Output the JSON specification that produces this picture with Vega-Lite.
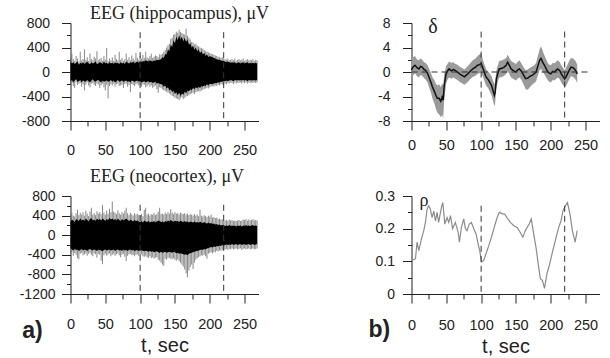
{
"$schema":"https://vega.github.io/schema/vega-lite/v6.json",
"padding":{"left":18.5,"top":5,"right":5,"bottom":2},
"config":{"view":{"stroke":null},"font":"Liberation Sans","axis":{"grid":false,"domainColor":"#222","tickColor":"#222","labelColor":"#222","titleColor":"#222","labelFontSize":14,"labelFontWeight":"normal","labelOverlap":false,"labelFlush":false,"labelBound":false,"titleFontWeight":"normal"},"title":{"color":"#222","font":"Liberation Serif","fontWeight":"normal","fontSize":18}},
"columns":2,
"spacing":{"row":75,"column":153},
"bounds":"flush",
"concat":[
{
"width":188,"height":98,
"title":{"text":"EEG (hippocampus), μV","dx":15,"offset":-21.3,"baseline":"alphabetic","frame":"group"},
"resolve":{"axis":{"x":"independent","y":"independent"}},
"data":{"values":[
{"t":0,"a":170,"b":-150,"c":230,"d":-200},{"t":2,"a":140,"b":-130,"c":300,"d":-180},{"t":4,"a":160,"b":-170,"c":210,"d":-230},{"t":6,"a":130,"b":-140,"c":180,"d":-260},{"t":8,"a":150,"b":-120,"c":260,"d":-170},{"t":10,"a":170,"b":-160,"c":220,"d":-210},{"t":12,"a":120,"b":-150,"c":170,"d":-190},{"t":14,"a":150,"b":-130,"c":330,"d":-180},{"t":16,"a":140,"b":-170,"c":190,"d":-240},{"t":18,"a":160,"b":-140,"c":210,"d":-200},{"t":20,"a":130,"b":-150,"c":370,"d":-300},{"t":22,"a":150,"b":-160,"c":200,"d":-210},{"t":24,"a":170,"b":-130,"c":240,"d":-170},{"t":26,"a":140,"b":-150,"c":180,"d":-220},{"t":28,"a":130,"b":-170,"c":300,"d":-250},{"t":30,"a":160,"b":-140,"c":210,"d":-190},{"t":32,"a":140,"b":-120,"c":190,"d":-180},{"t":34,"a":150,"b":-150,"c":250,"d":-210},{"t":36,"a":170,"b":-160,"c":220,"d":-230},{"t":38,"a":130,"b":-140,"c":340,"d":-190},{"t":40,"a":140,"b":-130,"c":190,"d":-200},{"t":42,"a":160,"b":-150,"c":210,"d":-260},{"t":44,"a":150,"b":-170,"c":230,"d":-220},{"t":46,"a":130,"b":-140,"c":180,"d":-190},{"t":48,"a":170,"b":-160,"c":260,"d":-250},{"t":50,"a":140,"b":-150,"c":200,"d":-300},{"t":52,"a":150,"b":-140,"c":390,"d":-210},{"t":54,"a":130,"b":-160,"c":180,"d":-430},{"t":56,"a":160,"b":-150,"c":220,"d":-230},{"t":58,"a":140,"b":-130,"c":190,"d":-200},{"t":60,"a":150,"b":-160,"c":240,"d":-220},{"t":62,"a":130,"b":-140,"c":180,"d":-190},{"t":64,"a":160,"b":-170,"c":280,"d":-240},{"t":66,"a":140,"b":-150,"c":210,"d":-200},{"t":68,"a":150,"b":-130,"c":190,"d":-190},{"t":70,"a":130,"b":-160,"c":330,"d":-230},{"t":72,"a":160,"b":-150,"c":200,"d":-220},{"t":74,"a":140,"b":-140,"c":230,"d":-210},{"t":76,"a":150,"b":-160,"c":180,"d":-260},{"t":78,"a":130,"b":-150,"c":210,"d":-200},{"t":80,"a":170,"b":-140,"c":300,"d":-190},{"t":82,"a":150,"b":-160,"c":200,"d":-240},{"t":84,"a":140,"b":-150,"c":240,"d":-210},{"t":86,"a":160,"b":-170,"c":190,"d":-330},{"t":88,"a":150,"b":-140,"c":270,"d":-200},{"t":90,"a":170,"b":-150,"c":220,"d":-210},{"t":92,"a":140,"b":-160,"c":190,"d":-230},{"t":94,"a":160,"b":-150,"c":310,"d":-200},{"t":96,"a":170,"b":-140,"c":230,"d":-190},{"t":98,"a":150,"b":-160,"c":200,"d":-220},{"t":100,"a":180,"b":-150,"c":260,"d":-210},{"t":102,"a":160,"b":-170,"c":220,"d":-240},{"t":104,"a":180,"b":-160,"c":280,"d":-200},{"t":106,"a":170,"b":-150,"c":230,"d":-210},{"t":108,"a":190,"b":-170,"c":330,"d":-250},{"t":110,"a":180,"b":-160,"c":240,"d":-230},{"t":112,"a":170,"b":-150,"c":220,"d":-200},{"t":114,"a":190,"b":-170,"c":260,"d":-240},{"t":116,"a":180,"b":-160,"c":300,"d":-220},{"t":118,"a":170,"b":-180,"c":230,"d":-260},{"t":120,"a":190,"b":-170,"c":250,"d":-240},{"t":122,"a":180,"b":-160,"c":270,"d":-220},{"t":124,"a":200,"b":-190,"c":260,"d":-280},{"t":126,"a":190,"b":-180,"c":240,"d":-340},{"t":128,"a":200,"b":-190,"c":290,"d":-250},{"t":130,"a":210,"b":-200,"c":280,"d":-260},{"t":132,"a":240,"b":-210,"c":300,"d":-280},{"t":134,"a":230,"b":-240,"c":330,"d":-300},{"t":136,"a":300,"b":-220,"c":360,"d":-310},{"t":138,"a":280,"b":-270,"c":400,"d":-320},{"t":140,"a":370,"b":-250,"c":440,"d":-340},{"t":142,"a":340,"b":-300,"c":460,"d":-350},{"t":144,"a":450,"b":-280,"c":540,"d":-370},{"t":146,"a":410,"b":-330,"c":560,"d":-390},{"t":148,"a":520,"b":-300,"c":610,"d":-400},{"t":150,"a":470,"b":-360,"c":620,"d":-420},{"t":152,"a":580,"b":-330,"c":660,"d":-430},{"t":154,"a":520,"b":-380,"c":640,"d":-440},{"t":156,"a":600,"b":-340,"c":690,"d":-460},{"t":158,"a":530,"b":-390,"c":650,"d":-430},{"t":160,"a":580,"b":-350,"c":640,"d":-410},{"t":162,"a":500,"b":-370,"c":620,"d":-440},{"t":164,"a":560,"b":-320,"c":610,"d":-420},{"t":166,"a":490,"b":-350,"c":710,"d":-400},{"t":168,"a":530,"b":-300,"c":590,"d":-390},{"t":170,"a":450,"b":-320,"c":560,"d":-380},{"t":172,"a":470,"b":-280,"c":530,"d":-360},{"t":174,"a":400,"b":-300,"c":490,"d":-350},{"t":176,"a":430,"b":-260,"c":480,"d":-340},{"t":178,"a":360,"b":-280,"c":450,"d":-360},{"t":180,"a":400,"b":-250,"c":460,"d":-330},{"t":182,"a":340,"b":-270,"c":430,"d":-320},{"t":184,"a":370,"b":-240,"c":420,"d":-310},{"t":186,"a":310,"b":-260,"c":400,"d":-320},{"t":188,"a":340,"b":-230,"c":390,"d":-300},{"t":190,"a":290,"b":-240,"c":380,"d":-290},{"t":192,"a":310,"b":-220,"c":360,"d":-280},{"t":194,"a":260,"b":-230,"c":340,"d":-270},{"t":196,"a":290,"b":-200,"c":330,"d":-260},{"t":198,"a":240,"b":-220,"c":320,"d":-270},{"t":200,"a":260,"b":-190,"c":310,"d":-250},{"t":202,"a":250,"b":-200,"c":300,"d":-240},{"t":204,"a":240,"b":-190,"c":290,"d":-230},{"t":206,"a":230,"b":-190,"c":280,"d":-240},{"t":208,"a":220,"b":-180,"c":270,"d":-220},{"t":210,"a":210,"b":-180,"c":260,"d":-230},{"t":212,"a":200,"b":-170,"c":250,"d":-210},{"t":214,"a":200,"b":-170,"c":240,"d":-220},{"t":216,"a":190,"b":-160,"c":230,"d":-200},{"t":218,"a":180,"b":-160,"c":240,"d":-210},{"t":220,"a":180,"b":-150,"c":220,"d":-200},{"t":222,"a":170,"b":-150,"c":210,"d":-190},{"t":224,"a":160,"b":-140,"c":200,"d":-200},{"t":226,"a":170,"b":-150,"c":220,"d":-180},{"t":228,"a":160,"b":-140,"c":190,"d":-190},{"t":230,"a":150,"b":-130,"c":200,"d":-170},{"t":232,"a":160,"b":-140,"c":210,"d":-180},{"t":234,"a":150,"b":-150,"c":190,"d":-200},{"t":236,"a":160,"b":-130,"c":220,"d":-170},{"t":238,"a":140,"b":-140,"c":180,"d":-190},{"t":240,"a":150,"b":-130,"c":200,"d":-170},{"t":242,"a":160,"b":-140,"c":210,"d":-180},{"t":244,"a":140,"b":-130,"c":190,"d":-170},{"t":246,"a":150,"b":-140,"c":200,"d":-190},{"t":248,"a":160,"b":-130,"c":220,"d":-170},{"t":250,"a":140,"b":-140,"c":180,"d":-180},{"t":252,"a":150,"b":-130,"c":200,"d":-170},{"t":254,"a":160,"b":-150,"c":210,"d":-190},{"t":256,"a":140,"b":-130,"c":190,"d":-170},{"t":258,"a":150,"b":-140,"c":200,"d":-180},{"t":260,"a":140,"b":-130,"c":190,"d":-170},{"t":262,"a":150,"b":-140,"c":210,"d":-180},{"t":264,"a":140,"b":-130,"c":180,"d":-170},{"t":266,"a":150,"b":-140,"c":200,"d":-180},{"t":268,"a":140,"b":-130,"c":190,"d":-170}
]},
"layer":[
{"mark":{"type":"rule","color":"#6a6a6a","strokeWidth":0.8},
 "encoding":{
  "x":{"field":"t","type":"quantitative","scale":{"domain":[0,270],"nice":false,"zero":false},
   "axis":{"orient":"bottom","values":[0,50,100,150,200,250],"tickSize":9,"labelPadding":13,"labelFontSize":14.5,"labelOverlap":false,"labelFlush":false,"title":null}},
  "y":{"field":"d","type":"quantitative","scale":{"domain":[-800,800],"nice":false,"zero":false},
   "axis":{"orient":"left","values":[-800,-400,0,400,800],"labelExpr":"(datum.value < 0 ? '-' : '') + abs(datum.value)","tickSize":9,"labelPadding":12,"labelOverlap":false,"labelFlush":false,"title":null}},
  "y2":{"field":"c"}}},
{"mark":{"type":"area","color":"#000"},
 "encoding":{
  "x":{"field":"t","type":"quantitative","axis":{"orient":"bottom","values":[25,75,125,175,225],"tickSize":5,"labels":false,"domain":false,"title":null}},
  "y":{"field":"b","type":"quantitative","axis":{"orient":"left","values":[-600,-200,200,600],"tickSize":4,"labels":false,"domain":false,"title":null}},
  "y2":{"field":"a"}}},
{"data":{"values":[{"t":100,"top":650},{"t":220,"top":650}]},
 "mark":{"type":"rule","strokeDash":[6,4],"color":"#333","strokeWidth":1},
 "encoding":{"x":{"field":"t","type":"quantitative","axis":null},"y":{"field":"top","type":"quantitative","axis":null},"y2":{"datum":-800}}}
]
},
{
"width":188,"height":98,
"title":{"text":"δ","anchor":"start","align":"center","dx":21.5,"offset":-36.5,"baseline":"alphabetic","frame":"group","fontSize":20},
"resolve":{"axis":{"x":"independent","y":"independent"}},
"layer":[
{"data":{"name":"delta","values":[
{"t":0,"v":0.3,"lo":-1.0,"hi":1.9},{"t":2,"v":0.8,"lo":-0.6,"hi":2.4},{"t":5,"v":1.1,"lo":-0.2,"hi":2.6},{"t":8,"v":0.7,"lo":-0.7,"hi":2.0},{"t":10.6,"v":0.5,"lo":-0.9,"hi":1.9},{"t":13,"v":0.9,"lo":-0.5,"hi":2.2},{"t":15.4,"v":0.8,"lo":-0.6,"hi":2.0},{"t":18,"v":0.4,"lo":-1.0,"hi":1.6},{"t":20,"v":0.3,"lo":-1.2,"hi":1.5},{"t":23,"v":-0.2,"lo":-1.7,"hi":1.1},{"t":25,"v":-0.8,"lo":-2.4,"hi":0.6},{"t":28,"v":-1.7,"lo":-3.4,"hi":-0.2},{"t":30,"v":-2.4,"lo":-4.3,"hi":-0.8},{"t":33,"v":-3.2,"lo":-5.2,"hi":-1.4},{"t":35,"v":-3.8,"lo":-6.0,"hi":-1.9},{"t":37,"v":-4.3,"lo":-6.6,"hi":-2.2},{"t":39.6,"v":-4.3,"lo":-6.9,"hi":-2.0},{"t":42,"v":-4.8,"lo":-7.4,"hi":-2.5},{"t":44,"v":-4.1,"lo":-7.0,"hi":-1.8},{"t":45.5,"v":-4.6,"lo":-7.6,"hi":-2.3},{"t":47,"v":-2.2,"lo":-4.5,"hi":-0.4},{"t":49.7,"v":-0.3,"lo":-1.9,"hi":1.0},{"t":52,"v":0.2,"lo":-1.2,"hi":1.4},{"t":54,"v":0.5,"lo":-0.9,"hi":1.7},{"t":57,"v":0.2,"lo":-1.1,"hi":1.5},{"t":60,"v":0.4,"lo":-0.9,"hi":1.6},{"t":62,"v":0.3,"lo":-1.0,"hi":1.4},{"t":66,"v":0,"lo":-1.3,"hi":1.2},{"t":69,"v":-0.3,"lo":-1.6,"hi":0.9},{"t":72,"v":-0.5,"lo":-1.8,"hi":0.7},{"t":76,"v":-0.8,"lo":-2.1,"hi":0.4},{"t":78,"v":-0.6,"lo":-1.9,"hi":0.6},{"t":81,"v":-0.3,"lo":-1.6,"hi":1.0},{"t":85,"v":0.2,"lo":-1.1,"hi":1.5},{"t":88,"v":0.5,"lo":-0.8,"hi":1.9},{"t":92,"v":0.8,"lo":-0.6,"hi":2.2},{"t":95,"v":1.1,"lo":-0.3,"hi":2.6},{"t":98,"v":1.2,"lo":-0.2,"hi":2.9},{"t":100,"v":1.4,"lo":-0.1,"hi":3.1},{"t":103,"v":0.5,"lo":-0.9,"hi":1.8},{"t":107,"v":-0.8,"lo":-2.2,"hi":0.5},{"t":110,"v":-1.2,"lo":-2.6,"hi":0.1},{"t":112,"v":-1.6,"lo":-3.1,"hi":-0.2},{"t":115,"v":-2.2,"lo":-3.8,"hi":-0.7},{"t":117,"v":-3.0,"lo":-4.7,"hi":-1.4},{"t":119,"v":-3.8,"lo":-5.6,"hi":-2.0},{"t":120,"v":-3.4,"lo":-5.2,"hi":-1.6},{"t":122,"v":-1.1,"lo":-2.6,"hi":0.3},{"t":124,"v":-0.2,"lo":-1.6,"hi":1.1},{"t":126,"v":0.5,"lo":-0.9,"hi":1.8},{"t":130,"v":0.6,"lo":-0.8,"hi":1.9},{"t":133,"v":0.8,"lo":-0.6,"hi":2.1},{"t":136,"v":1.1,"lo":-0.3,"hi":2.3},{"t":138,"v":1.6,"lo":0.2,"hi":2.8},{"t":141,"v":1.0,"lo":-0.4,"hi":2.2},{"t":143,"v":0.5,"lo":-0.9,"hi":1.8},{"t":147,"v":0.2,"lo":-1.2,"hi":1.5},{"t":150,"v":0,"lo":-1.4,"hi":1.3},{"t":153,"v":0.4,"lo":-1.0,"hi":1.7},{"t":155,"v":0.5,"lo":-0.9,"hi":1.9},{"t":158,"v":0.1,"lo":-1.3,"hi":1.4},{"t":160,"v":-0.3,"lo":-1.8,"hi":1.0},{"t":162,"v":-0.7,"lo":-2.3,"hi":0.6},{"t":164,"v":-1.1,"lo":-2.8,"hi":0.3},{"t":167,"v":-1.0,"lo":-2.9,"hi":0.4},{"t":169,"v":-0.8,"lo":-2.6,"hi":0.6},{"t":172,"v":-0.6,"lo":-2.2,"hi":0.8},{"t":174,"v":-0.5,"lo":-2.0,"hi":0.9},{"t":177,"v":-0.2,"lo":-1.7,"hi":1.2},{"t":179,"v":0,"lo":-1.5,"hi":1.5},{"t":181,"v":0.8,"lo":-0.7,"hi":2.4},{"t":184,"v":1.9,"lo":0.3,"hi":3.7},{"t":186,"v":2.2,"lo":0.5,"hi":4.2},{"t":188,"v":1.7,"lo":0.1,"hi":3.6},{"t":191,"v":1.1,"lo":-0.4,"hi":2.7},{"t":194,"v":0.4,"lo":-1.0,"hi":1.9},{"t":196,"v":0,"lo":-1.4,"hi":1.4},{"t":198,"v":-0.2,"lo":-1.6,"hi":1.2},{"t":200,"v":-0.3,"lo":-1.7,"hi":1.1},{"t":203,"v":0.1,"lo":-1.3,"hi":1.5},{"t":205,"v":0,"lo":-1.4,"hi":1.4},{"t":208,"v":0.3,"lo":-1.1,"hi":1.7},{"t":210,"v":0.5,"lo":-0.9,"hi":1.9},{"t":213,"v":0.2,"lo":-1.2,"hi":1.6},{"t":215,"v":-0.3,"lo":-1.7,"hi":1.1},{"t":218,"v":-0.8,"lo":-2.2,"hi":0.6},{"t":220,"v":-1.1,"lo":-2.5,"hi":0.3},{"t":222,"v":-0.8,"lo":-2.3,"hi":0.7},{"t":224,"v":-0.3,"lo":-1.8,"hi":1.2},{"t":227,"v":0.4,"lo":-1.1,"hi":1.9},{"t":229,"v":0.8,"lo":-0.7,"hi":2.3},{"t":232,"v":0.7,"lo":-0.8,"hi":2.2},{"t":234,"v":0.5,"lo":-1.0,"hi":2.0},{"t":236,"v":0.2,"lo":-1.3,"hi":1.7},{"t":238,"v":-0.3,"lo":-1.8,"hi":1.2}
]},
 "mark":{"type":"area","color":"#9a9a9a"},
 "encoding":{
  "x":{"field":"t","type":"quantitative","scale":{"domain":[0,270],"nice":false,"zero":false},
   "axis":{"orient":"bottom","values":[0,50,100,150,200,250],"tickSize":9,"labelPadding":8,"labelFontSize":14.5,"labelOverlap":false,"labelFlush":false,"title":null}},
  "y":{"field":"lo","type":"quantitative","scale":{"domain":[-8,8],"nice":false,"zero":false},
   "axis":{"orient":"left","values":[-8,-4,0,4,8],"labelExpr":"(datum.value < 0 ? '-' : '') + abs(datum.value)","tickSize":9,"labelPadding":12.5,"labelOverlap":false,"labelFlush":false,"title":null}},
  "y2":{"field":"hi"}}},
{"data":{"name":"delta"},
 "mark":{"type":"line","color":"#111","strokeWidth":1.5},
 "encoding":{
  "x":{"field":"t","type":"quantitative","axis":{"orient":"bottom","values":[25,75,125,175,225],"tickSize":5,"labels":false,"domain":false,"title":null}},
  "y":{"field":"v","type":"quantitative","axis":{"orient":"left","values":[-6,-2,2,6],"tickSize":4,"labels":false,"domain":false,"title":null}}}},
{"data":{"values":[{"t":100,"top":6.6},{"t":220,"top":6.6}]},
 "mark":{"type":"rule","strokeDash":[6,4],"color":"#333","strokeWidth":1},
 "encoding":{"x":{"field":"t","type":"quantitative","axis":null},"y":{"field":"top","type":"quantitative","axis":null},"y2":{"datum":-8}}},
{"data":{"values":[{"t0":0,"t1":256,"z":0}]},
 "mark":{"type":"rule","strokeDash":[6,4],"color":"#333","strokeWidth":1},
 "encoding":{"x":{"field":"t0","type":"quantitative","axis":null},"x2":{"field":"t1"},"y":{"field":"z","type":"quantitative","axis":null}}}
]
},
{
"width":188,"height":98,
"title":{"text":"EEG (neocortex), μV","dx":2.5,"offset":-11,"baseline":"alphabetic","frame":"group"},
"resolve":{"axis":{"x":"independent","y":"independent"}},
"data":{"values":[
{"t":0,"a":280,"b":-260,"c":420,"d":-380},{"t":2,"a":320,"b":-290,"c":460,"d":-350},{"t":4,"a":300,"b":-310,"c":400,"d":-420},{"t":6,"a":270,"b":-280,"c":380,"d":-360},{"t":8,"a":330,"b":-300,"c":450,"d":-400},{"t":10,"a":310,"b":-290,"c":520,"d":-470},{"t":12,"a":290,"b":-320,"c":410,"d":-490},{"t":14,"a":340,"b":-300,"c":460,"d":-380},{"t":16,"a":300,"b":-280,"c":420,"d":-360},{"t":18,"a":320,"b":-310,"c":470,"d":-410},{"t":20,"a":290,"b":-290,"c":400,"d":-390},{"t":22,"a":340,"b":-300,"c":500,"d":-370},{"t":24,"a":310,"b":-320,"c":440,"d":-420},{"t":26,"a":280,"b":-290,"c":390,"d":-380},{"t":28,"a":330,"b":-280,"c":480,"d":-360},{"t":30,"a":350,"b":-300,"c":560,"d":-400},{"t":32,"a":300,"b":-310,"c":420,"d":-430},{"t":34,"a":320,"b":-290,"c":450,"d":-370},{"t":36,"a":290,"b":-300,"c":410,"d":-390},{"t":38,"a":340,"b":-320,"c":490,"d":-460},{"t":40,"a":310,"b":-290,"c":440,"d":-380},{"t":42,"a":330,"b":-300,"c":470,"d":-400},{"t":44,"a":300,"b":-310,"c":430,"d":-520},{"t":46,"a":340,"b":-330,"c":620,"d":-590},{"t":48,"a":320,"b":-300,"c":460,"d":-410},{"t":50,"a":290,"b":-290,"c":420,"d":-380},{"t":52,"a":330,"b":-310,"c":500,"d":-420},{"t":54,"a":310,"b":-300,"c":440,"d":-390},{"t":56,"a":350,"b":-290,"c":540,"d":-370},{"t":58,"a":320,"b":-310,"c":470,"d":-430},{"t":60,"a":340,"b":-300,"c":690,"d":-400},{"t":62,"a":310,"b":-290,"c":480,"d":-380},{"t":64,"a":330,"b":-320,"c":460,"d":-420},{"t":66,"a":300,"b":-300,"c":430,"d":-390},{"t":68,"a":340,"b":-290,"c":510,"d":-370},{"t":70,"a":310,"b":-310,"c":450,"d":-410},{"t":72,"a":290,"b":-300,"c":420,"d":-450},{"t":74,"a":330,"b":-320,"c":470,"d":-400},{"t":76,"a":300,"b":-290,"c":440,"d":-380},{"t":78,"a":320,"b":-310,"c":500,"d":-440},{"t":80,"a":340,"b":-300,"c":560,"d":-525},{"t":82,"a":310,"b":-320,"c":450,"d":-420},{"t":84,"a":290,"b":-300,"c":410,"d":-390},{"t":86,"a":320,"b":-290,"c":460,"d":-380},{"t":88,"a":300,"b":-310,"c":430,"d":-410},{"t":90,"a":280,"b":-300,"c":400,"d":-400},{"t":92,"a":310,"b":-320,"c":450,"d":-430},{"t":94,"a":290,"b":-310,"c":420,"d":-400},{"t":96,"a":300,"b":-300,"c":440,"d":-390},{"t":98,"a":280,"b":-320,"c":410,"d":-420},{"t":100,"a":270,"b":-310,"c":400,"d":-410},{"t":102,"a":290,"b":-300,"c":430,"d":-390},{"t":104,"a":260,"b":-320,"c":390,"d":-430},{"t":106,"a":300,"b":-330,"c":520,"d":-440},{"t":108,"a":280,"b":-310,"c":560,"d":-420},{"t":110,"a":270,"b":-330,"c":420,"d":-450},{"t":112,"a":290,"b":-340,"c":440,"d":-460},{"t":114,"a":260,"b":-320,"c":400,"d":-430},{"t":116,"a":280,"b":-340,"c":430,"d":-470},{"t":118,"a":270,"b":-330,"c":420,"d":-450},{"t":120,"a":290,"b":-350,"c":450,"d":-480},{"t":122,"a":260,"b":-340,"c":410,"d":-460},{"t":124,"a":280,"b":-330,"c":430,"d":-450},{"t":126,"a":300,"b":-350,"c":480,"d":-500},{"t":128,"a":290,"b":-360,"c":560,"d":-520},{"t":130,"a":270,"b":-340,"c":430,"d":-560},{"t":132,"a":280,"b":-360,"c":440,"d":-600},{"t":134,"a":260,"b":-350,"c":420,"d":-625},{"t":136,"a":290,"b":-340,"c":460,"d":-480},{"t":138,"a":270,"b":-360,"c":430,"d":-500},{"t":140,"a":300,"b":-350,"c":470,"d":-470},{"t":142,"a":280,"b":-340,"c":440,"d":-460},{"t":144,"a":310,"b":-350,"c":530,"d":-480},{"t":146,"a":290,"b":-360,"c":460,"d":-490},{"t":148,"a":270,"b":-340,"c":430,"d":-470},{"t":150,"a":300,"b":-350,"c":470,"d":-500},{"t":152,"a":280,"b":-370,"c":440,"d":-520},{"t":154,"a":290,"b":-360,"c":450,"d":-490},{"t":156,"a":270,"b":-380,"c":420,"d":-530},{"t":158,"a":300,"b":-370,"c":460,"d":-560},{"t":160,"a":280,"b":-380,"c":440,"d":-600},{"t":162,"a":270,"b":-390,"c":430,"d":-640},{"t":164,"a":290,"b":-400,"c":450,"d":-700},{"t":166,"a":270,"b":-390,"c":420,"d":-780},{"t":168,"a":280,"b":-410,"c":440,"d":-860},{"t":170,"a":260,"b":-380,"c":410,"d":-720},{"t":172,"a":280,"b":-370,"c":430,"d":-650},{"t":174,"a":270,"b":-360,"c":420,"d":-600},{"t":176,"a":260,"b":-350,"c":400,"d":-690},{"t":178,"a":280,"b":-340,"c":430,"d":-560},{"t":180,"a":260,"b":-330,"c":400,"d":-500},{"t":182,"a":270,"b":-320,"c":420,"d":-470},{"t":184,"a":250,"b":-310,"c":390,"d":-450},{"t":186,"a":280,"b":-300,"c":520,"d":-430},{"t":188,"a":260,"b":-290,"c":400,"d":-410},{"t":190,"a":250,"b":-300,"c":380,"d":-420},{"t":192,"a":270,"b":-280,"c":410,"d":-400},{"t":194,"a":250,"b":-290,"c":390,"d":-430},{"t":196,"a":240,"b":-270,"c":370,"d":-480},{"t":198,"a":260,"b":-260,"c":400,"d":-380},{"t":200,"a":240,"b":-250,"c":380,"d":-360},{"t":202,"a":250,"b":-240,"c":420,"d":-350},{"t":204,"a":230,"b":-250,"c":360,"d":-370},{"t":206,"a":240,"b":-230,"c":370,"d":-340},{"t":208,"a":220,"b":-240,"c":350,"d":-350},{"t":210,"a":230,"b":-220,"c":360,"d":-320},{"t":212,"a":210,"b":-230,"c":330,"d":-330},{"t":214,"a":220,"b":-210,"c":340,"d":-310},{"t":216,"a":200,"b":-220,"c":320,"d":-320},{"t":218,"a":210,"b":-200,"c":320,"d":-300},{"t":220,"a":200,"b":-210,"c":310,"d":-300},{"t":222,"a":190,"b":-200,"c":300,"d":-290},{"t":224,"a":200,"b":-190,"c":310,"d":-280},{"t":226,"a":190,"b":-200,"c":290,"d":-300},{"t":228,"a":210,"b":-190,"c":320,"d":-280},{"t":230,"a":190,"b":-200,"c":300,"d":-290},{"t":232,"a":200,"b":-180,"c":310,"d":-270},{"t":234,"a":190,"b":-200,"c":290,"d":-290},{"t":236,"a":200,"b":-190,"c":300,"d":-280},{"t":238,"a":180,"b":-180,"c":290,"d":-270},{"t":240,"a":200,"b":-200,"c":300,"d":-290},{"t":242,"a":190,"b":-190,"c":310,"d":-280},{"t":244,"a":200,"b":-180,"c":290,"d":-270},{"t":246,"a":180,"b":-200,"c":300,"d":-300},{"t":248,"a":200,"b":-190,"c":320,"d":-280},{"t":250,"a":190,"b":-180,"c":310,"d":-270},{"t":252,"a":210,"b":-200,"c":330,"d":-290},{"t":254,"a":190,"b":-190,"c":300,"d":-280},{"t":256,"a":200,"b":-180,"c":320,"d":-270},{"t":258,"a":190,"b":-200,"c":300,"d":-290},{"t":260,"a":200,"b":-190,"c":310,"d":-280},{"t":262,"a":210,"b":-180,"c":330,"d":-270},{"t":264,"a":190,"b":-200,"c":300,"d":-290},{"t":266,"a":200,"b":-190,"c":310,"d":-280},{"t":268,"a":190,"b":-180,"c":300,"d":-270}
]},
"layer":[
{"mark":{"type":"rule","color":"#6a6a6a","strokeWidth":0.8},
 "encoding":{
  "x":{"field":"t","type":"quantitative","scale":{"domain":[0,270],"nice":false,"zero":false},
   "axis":{"orient":"bottom","values":[0,50,100,150,200,250],"tickSize":9,"labelPadding":14,"labelFontSize":14.5,"labelOverlap":false,"labelFlush":false,"title":"t, sec","titleFontSize":20,"titleBaseline":"alphabetic","titleY":57}},
  "y":{"field":"d","type":"quantitative","scale":{"domain":[-1200,800],"nice":false,"zero":false},
   "axis":{"orient":"left","values":[-1200,-800,-400,0,400,800],"labelExpr":"(datum.value < 0 ? '-' : '') + abs(datum.value)","tickSize":9,"labelPadding":6.5,"labelOverlap":false,"labelFlush":false,"title":"a)","titleAngle":0,"titleX":-48.7,"titleY":141.5,"titleAlign":"left","titleBaseline":"alphabetic","titleFontSize":23,"titleFontWeight":"bold"}},
  "y2":{"field":"c"}}},
{"mark":{"type":"area","color":"#000"},
 "encoding":{
  "x":{"field":"t","type":"quantitative","axis":{"orient":"bottom","values":[25,75,125,175,225],"tickSize":5,"labels":false,"domain":false,"title":null}},
  "y":{"field":"b","type":"quantitative","axis":{"orient":"left","values":[-1000,-600,-200,200,600],"tickSize":4,"labels":false,"domain":false,"title":null}},
  "y2":{"field":"a"}}},
{"data":{"values":[{"t":100,"top":620},{"t":220,"top":620}]},
 "mark":{"type":"rule","strokeDash":[6,4],"color":"#333","strokeWidth":1},
 "encoding":{"x":{"field":"t","type":"quantitative","axis":null},"y":{"field":"top","type":"quantitative","axis":null},"y2":{"datum":-1200}}}
]
},
{
"width":188,"height":98,
"title":{"text":"ρ","anchor":"start","align":"center","dx":12.5,"offset":-35,"baseline":"alphabetic","frame":"group","fontSize":18},
"resolve":{"axis":{"x":"independent","y":"independent"}},
"layer":[
{"data":{"values":[
{"t":0.9,"v":0.103},{"t":5.7,"v":0.108},{"t":8,"v":0.159},{"t":10.5,"v":0.133},{"t":14.3,"v":0.169},{"t":17.6,"v":0.194},{"t":20,"v":0.219},{"t":22.4,"v":0.26},{"t":24.8,"v":0.27},{"t":27,"v":0.26},{"t":29.6,"v":0.234},{"t":32,"v":0.254},{"t":34.4,"v":0.224},{"t":36.8,"v":0.25},{"t":39,"v":0.219},{"t":43,"v":0.265},{"t":45,"v":0.28},{"t":47.8,"v":0.214},{"t":51,"v":0.234},{"t":53.5,"v":0.219},{"t":56,"v":0.24},{"t":59,"v":0.2},{"t":63,"v":0.219},{"t":67,"v":0.189},{"t":68.8,"v":0.159},{"t":71.7,"v":0.204},{"t":75,"v":0.23},{"t":77.4,"v":0.2},{"t":79.8,"v":0.194},{"t":83,"v":0.214},{"t":86,"v":0.219},{"t":89.4,"v":0.2},{"t":92.7,"v":0.184},{"t":95.6,"v":0.154},{"t":98,"v":0.133},{"t":100.4,"v":0.098},{"t":103.7,"v":0.103},{"t":107,"v":0.123},{"t":111,"v":0.148},{"t":114.8,"v":0.174},{"t":119.5,"v":0.209},{"t":123,"v":0.234},{"t":126,"v":0.25},{"t":130,"v":0.246},{"t":134,"v":0.244},{"t":137,"v":0.234},{"t":142,"v":0.219},{"t":147,"v":0.209},{"t":151.6,"v":0.204},{"t":156,"v":0.189},{"t":160,"v":0.174},{"t":163.5,"v":0.194},{"t":169,"v":0.214},{"t":172,"v":0.23},{"t":175.5,"v":0.184},{"t":178.8,"v":0.143},{"t":182.6,"v":0.083},{"t":185,"v":0.047},{"t":188,"v":0.042},{"t":191,"v":0.017},{"t":194.6,"v":0.063},{"t":198,"v":0.088},{"t":201.8,"v":0.123},{"t":206.6,"v":0.164},{"t":211.4,"v":0.204},{"t":214.7,"v":0.224},{"t":217.6,"v":0.255},{"t":221,"v":0.27},{"t":224,"v":0.28},{"t":228,"v":0.24},{"t":231,"v":0.194},{"t":235,"v":0.159},{"t":238,"v":0.194}
]},
"mark":{"type":"line","color":"#8c8c8c","strokeWidth":1.2},
"encoding":{
  "x":{"field":"t","type":"quantitative","scale":{"domain":[0,270],"nice":false,"zero":false},
   "axis":{"orient":"bottom","values":[0,50,100,150,200,250],"tickSize":9,"labelPadding":15,"labelFontSize":14.5,"labelOverlap":false,"labelFlush":false,"title":"t, sec","titleFontSize":20,"titleBaseline":"alphabetic","titleY":58}},
  "y":{"field":"v","type":"quantitative","scale":{"domain":[0,0.3],"nice":false,"zero":false},
   "axis":{"orient":"left","values":[0,0.1,0.2,0.3],"labelExpr":"'' + datum.value","tickSize":9,"labelPadding":8,"labelOverlap":false,"labelFlush":false,"title":"b)","titleAngle":0,"titleX":-43.5,"titleY":140,"titleAlign":"left","titleBaseline":"alphabetic","titleFontSize":23,"titleFontWeight":"bold"}}}},
{"data":{"values":[{"t":100,"top":0.27},{"t":220,"top":0.27}]},
 "mark":{"type":"rule","strokeDash":[6,4],"color":"#333","strokeWidth":1},
 "encoding":{
  "x":{"field":"t","type":"quantitative","axis":{"orient":"bottom","values":[25,75,125,175,225],"tickSize":5,"labels":false,"domain":false,"title":null}},
  "y":{"field":"top","type":"quantitative","axis":{"orient":"left","values":[0.05,0.15,0.25],"tickSize":4,"labels":false,"domain":false,"title":null}},
  "y2":{"datum":0}}}
]
}
]
}
